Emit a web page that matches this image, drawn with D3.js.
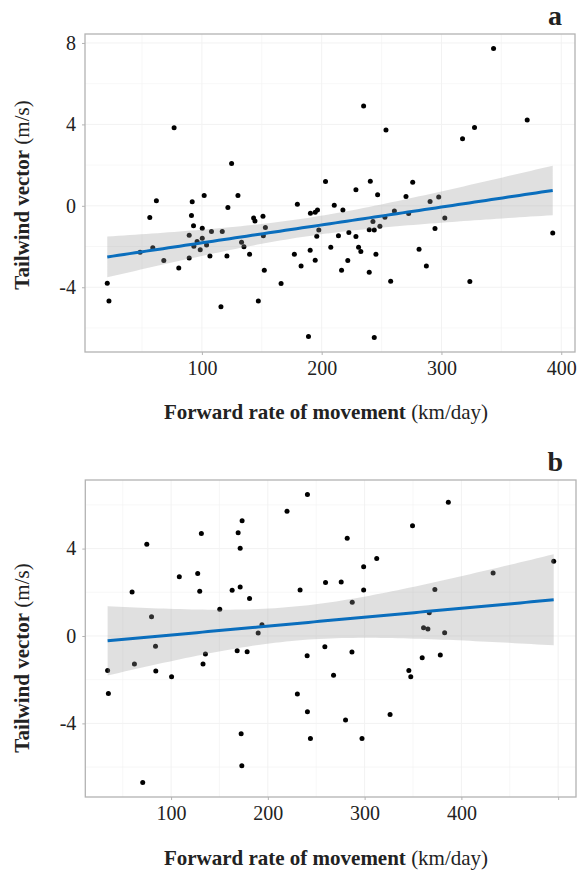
<!DOCTYPE html>
<html>
<head>
<meta charset="utf-8">
<script src="https://cdn.jsdelivr.net/npm/d3@7/dist/d3.min.js"></script>
<style>
  html, body { margin: 0; padding: 0; background: #fff; }
  svg { display: block; }
  text { font-family: "Liberation Serif", "Times New Roman", serif; fill: #222; }
</style>
</head>
<body>
<svg id="chart" width="585" height="871"></svg>
<script>
// ---------- DATA ----------
// Panel a: forward rate of movement (km/day) and tailwind vector (m/s)
const rateA = [76.8,124.8,203.2,343.5,235,253.7,317.6,327.6,371.6,228.6,240.6,276,
  62,56.5,91.9,101.9,130.1,91.3,121.7,93,89.4,100.3,108,117,96,100.3,93.3,103.9,98.6,106.7,89.4,120.9,
  59,68.2,80.7,21,22.4,115.9,143.2,144.3,151,153,133.1,135.1,139.8,151.3,152.1,147.1,166.1,179.7,
  190.6,194.6,196.5,197.6,195.9,177.2,190.4,182.8,194.6,207.6,189,
  246.7,270.4,290.5,297.7,302.8,294.6,210.5,217.7,260.7,272.6,252.8,242.8,248.6,239.7,243.9,222.7,
  214,228.6,230.8,232.7,221.8,216.6,245.3,239.7,281.3,287.4,257.6,323.7,392.9,243.9,48.4];
const windA = [3.83,2.08,1.19,7.73,4.9,3.72,3.29,3.85,4.21,0.79,1.21,1.16,
  0.25,-0.57,0.2,0.51,0.51,-0.48,-0.08,-0.98,-1.44,-1.1,-1.26,-1.26,-1.75,-1.59,-1.98,-1.93,-2.16,-2.46,-2.56,-2.47,
  -2.06,-2.69,-3.05,-3.8,-4.67,-4.96,-0.6,-0.74,-0.51,-1.07,-1.79,-2.01,-2.38,-1.47,-3.16,-4.67,-3.82,0.08,
  -0.36,-0.31,-0.2,-1.19,-1.49,-2.38,-2.18,-2.95,-2.67,-2.03,-6.42,
  0.54,0.46,0.21,0.43,-0.6,-1.11,0.03,-0.2,-0.26,-0.38,-0.56,-0.77,-1.0,-1.18,-1.19,-1.31,
  -1.47,-1.51,-2.03,-2.24,-2.69,-3.16,-2.38,-3.26,-2.13,-2.96,-3.7,-3.72,-1.34,-6.47,-2.28];

// Panel b
const rateB = [74.9,131.3,169.3,173.4,171.4,219.8,240.9,59.7,79.8,108.5,127.5,129.6,163.1,171.4,181.1,150.3,233.3,259.6,193.9,190,
  386.5,349.5,282,312.5,299,275.8,299,287.2,372.6,432.8,495.4,366.8,360.9,365.4,382.7,
  83.9,34.4,35.2,62.1,84.2,100.5,133,135.5,168.3,178.6,258.9,240.6,230.5,240.9,244,172.4,173.1,70.7,
  286.9,267.9,359.5,378.2,345.7,347.7,280.3,297.3,326.3];
const windB = [4.2,4.69,4.72,5.27,4.02,5.71,6.48,2.01,0.88,2.71,2.86,2.05,2.09,2.24,1.72,1.22,2.11,2.45,0.52,0.14,
  6.12,5.05,4.47,3.55,3.17,2.47,2.11,1.54,2.13,2.88,3.42,1.06,0.38,0.32,0.15,
  -0.47,-1.58,-2.63,-1.28,-1.6,-1.86,-1.28,-0.82,-0.67,-0.72,-0.49,-0.91,-2.66,-3.47,-4.69,-4.47,-5.94,-6.71,
  -0.73,-1.8,-1.0,-0.87,-1.58,-1.86,-3.85,-4.69,-3.59];

const xTicksA = [100, 200, 300, 400];
const yTicksA = [-4, 0, 4, 8];
const xTicksB = [100, 200, 300, 400, 500];
const xTickLabelsB = ["100", "200", "300", "400", ""];
const yTicksB = [-4, 0, 4];
const panelLetters = ["a", "b"];
const xTitleBold = "Forward rate of movement";
const xTitleNorm = " (km/day)";
const yTitleBold = "Tailwind vector";
const yTitleNorm = " (m/s)";

// ---------- HELPERS ----------
function tQuant(df) {
  const z = 1.959964;
  return z + (z*z*z + z)/(4*df) + (5*Math.pow(z,5) + 16*z*z*z + 3*z)/(96*df*df)
    + (3*Math.pow(z,7) + 19*Math.pow(z,5) + 17*z*z*z - 15*z)/(384*df*df*df);
}
function fitLm(xs, ys) {
  const n = xs.length;
  const mx = d3.mean(xs), my = d3.mean(ys);
  let sxx = 0, sxy = 0;
  for (let i = 0; i < n; i++) { sxx += (xs[i]-mx)**2; sxy += (xs[i]-mx)*(ys[i]-my); }
  const b = sxy / sxx, a = my - b*mx;
  let sse = 0;
  for (let i = 0; i < n; i++) sse += (ys[i] - a - b*xs[i])**2;
  const s = Math.sqrt(sse/(n-2));
  const t = tQuant(n-2);
  const [x0, x1] = d3.extent(xs);
  return d3.range(81).map(i => {
    const x = x0 + (x1-x0)*i/80;
    const f = a + b*x;
    const se = s*Math.sqrt(1/n + (x-mx)**2/sxx);
    return {x, f, lo: f - t*se, hi: f + t*se};
  });
}
function expand(ext) { const d = (ext[1]-ext[0])*0.05; return [ext[0]-d, ext[1]+d]; }

const svg = d3.select("#chart");

function drawPanel(cfg) {
  const {rate, wind, box, xTicks, xLabels, yTicks, letter, yTitleY} = cfg;
  const x = d3.scaleLinear().domain(expand(d3.extent(rate))).range([box.l, box.r]);
  const y = d3.scaleLinear().domain(expand(d3.extent(wind))).range([box.b, box.t]);
  const g = svg.append("g");

  // grid (major + minor), very faint
  const xd = x.domain(), yd = y.domain();
  const xMinor = d3.range(Math.ceil(xd[0]/50)*50, xd[1], 50);
  const yMinor = d3.range(Math.ceil(yd[0]/2)*2, yd[1], 2);
  g.selectAll(".gx").data(xMinor).join("line")
    .attr("x1", d => x(d)).attr("x2", d => x(d)).attr("y1", box.t).attr("y2", box.b)
    .attr("stroke", "#f2f2f2").attr("stroke-width", d => d % 100 === 0 ? 1 : 0.6);
  g.selectAll(".gy").data(yMinor).join("line")
    .attr("y1", d => y(d)).attr("y2", d => y(d)).attr("x1", box.l).attr("x2", box.r)
    .attr("stroke", "#f2f2f2").attr("stroke-width", d => d % 4 === 0 ? 1 : 0.6);

  // points
  const pts = rate.map((r, i) => ({r, w: wind[i]}));
  g.selectAll(".pt").data(pts).join("circle")
    .attr("cx", d => x(d.r)).attr("cy", d => y(d.w)).attr("r", 2.5).attr("fill", "#000");

  // smooth
  const fit = fitLm(rate, wind);
  g.append("path").datum(fit)
    .attr("d", d3.area().x(d => x(d.x)).y0(d => y(d.lo)).y1(d => y(d.hi)))
    .attr("fill", "#999").attr("fill-opacity", 0.3);
  g.append("path").datum(fit)
    .attr("d", d3.line().x(d => x(d.x)).y(d => y(d.f)))
    .attr("fill", "none").attr("stroke", "#0a6ebd").attr("stroke-width", 3);

  // border
  g.append("rect").attr("x", box.l).attr("y", box.t)
    .attr("width", box.r - box.l).attr("height", box.b - box.t)
    .attr("fill", "none").attr("stroke", "#b3b3b3").attr("stroke-width", 1.3);

  // axes
  const xa = d3.axisBottom(x).tickValues(xTicks).tickSize(3).tickPadding(6)
    .tickFormat((d, i) => xLabels[i]);
  const xg = g.append("g").attr("transform", `translate(0,${box.b})`).call(xa);
  xg.attr("font-family", null);
  xg.select(".domain").remove();
  xg.selectAll("line").attr("stroke", "#b3b3b3");
  xg.selectAll("text").attr("font-size", 20).attr("fill", "#222")
    .attr("font-family", "Liberation Serif, serif");

  const ya = d3.axisLeft(y).tickValues(yTicks).tickSize(3).tickPadding(6).tickFormat(d3.format("d"));
  const yg = g.append("g").attr("transform", `translate(${box.l},0)`).call(ya);
  yg.attr("font-family", null);
  yg.select(".domain").remove();
  yg.selectAll("line").attr("stroke", "#b3b3b3");
  yg.selectAll("text").attr("font-size", 20).attr("fill", "#222")
    .attr("font-family", "Liberation Serif, serif").text(d => String(d));

  // x title
  const xt = g.append("text").attr("x", 326).attr("y", cfg.xTitleY)
    .attr("text-anchor", "middle").attr("font-size", 21);
  xt.append("tspan").attr("font-weight", "bold").text(xTitleBold);
  xt.append("tspan").text(xTitleNorm);

  // y title
  const yt = g.append("text")
    .attr("transform", `translate(29,${yTitleY}) rotate(-90)`)
    .attr("text-anchor", "middle").attr("font-size", 21);
  yt.append("tspan").attr("font-weight", "bold").text(yTitleBold);
  yt.append("tspan").text(yTitleNorm);

  // panel letter
  g.append("text").attr("x", box.r - 13).attr("y", box.t - 9)
    .attr("text-anchor", "end").attr("font-size", 28).attr("font-weight", "bold")
    .text(letter);
}

drawPanel({rate: rateA, wind: windA, box: {l: 85, r: 575, t: 34, b: 352},
  xTicks: xTicksA, xLabels: xTicksA.map(String), yTicks: yTicksA, letter: panelLetters[0],
  xTitleY: 419, yTitleY: 195});
drawPanel({rate: rateB, wind: windB, box: {l: 85.3, r: 576, t: 480, b: 797},
  xTicks: xTicksB, xLabels: xTickLabelsB, yTicks: yTicksB, letter: panelLetters[1],
  xTitleY: 865, yTitleY: 658});
</script>
</body>
</html>
